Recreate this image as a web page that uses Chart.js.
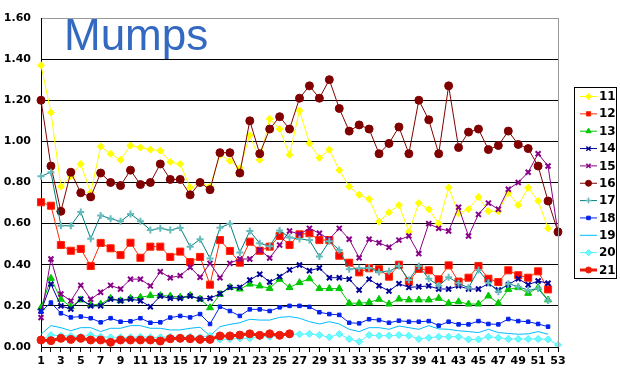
<!DOCTYPE html>
<html>
<head>
<meta charset="utf-8">
<script src="https://cdn.jsdelivr.net/npm/chart.js@4/dist/chart.umd.min.js"></script>
<style>
body { margin: 0; background: #fff; }
</style>
</head>
<body>
<canvas id="mumpsChart" width="620" height="384"></canvas>
<script>
// week numbers on the x axis
const weeks = ['1','2','3','4','5','6','7','8','9','10','11','12','13','14','15','16','17','18','19','20',
    '21','22','23','24','25','26','27','28','29','30','31','32','33','34','35','36','37','38','39','40',
    '41','42','43','44','45','46','47','48','49','50','51','52','53'];
const yTicks = [0, 0.2, 0.4, 0.6, 0.8, 1.0, 1.2, 1.4, 1.6];

const s11 = [1.37,1.14,0.78,0.83,0.89,0.75,0.975,0.94,0.91,0.98,
    0.97,0.96,0.955,0.90,0.89,0.775,0.80,0.78,0.935,0.905,
    0.87,1.03,0.91,1.11,1.06,0.935,1.15,0.99,0.92,0.96,
    0.86,0.78,0.74,0.72,0.61,0.655,0.69,0.56,0.70,0.67,
    0.60,0.775,0.65,0.67,0.73,0.66,0.66,0.75,0.69,0.775,
    0.71,0.577,null];
const s12 = [0.704,0.687,0.496,0.468,0.477,0.394,0.506,0.48,0.447,0.507,
    0.434,0.488,0.488,0.438,0.464,0.413,0.438,0.303,0.52,0.467,
    0.41,0.512,0.468,0.488,0.54,0.496,0.548,0.553,0.52,0.52,
    0.444,0.41,0.363,0.383,0.378,0.342,0.40,0.318,0.38,0.373,
    0.329,0.397,0.318,0.337,0.394,0.332,0.316,0.373,0.349,0.337,
    0.368,0.28,null];
const s13 = [0.191,0.334,0.232,0.196,0.229,0.204,0.209,0.237,0.225,0.237,
    0.242,0.25,0.25,0.248,0.242,0.25,0.233,0.191,0.256,0.29,
    0.282,0.306,0.297,0.285,0.329,0.289,0.313,0.332,0.284,0.284,
    0.284,0.213,0.213,0.217,0.232,0.209,0.233,0.229,0.229,0.229,
    0.237,0.213,0.22,0.209,0.209,0.248,0.213,0.28,0.289,0.261,
    0.289,0.229,null];
const s14 = [0.175,0.306,0.20,0.185,0.233,0.20,0.20,0.233,0.225,0.233,
    0.225,0.196,0.248,0.237,0.237,0.248,0.233,0.237,0.259,0.29,
    0.29,0.326,0.354,0.316,0.342,0.375,0.399,0.371,0.384,0.337,
    0.337,0.33,0.277,0.33,0.298,0.272,0.308,0.29,0.293,0.297,
    0.282,0.282,0.297,0.282,0.282,0.308,0.277,0.303,0.332,0.303,
    0.321,0.31,null];
const s15 = [0.143,0.428,0.258,0.224,0.30,0.232,0.266,0.30,0.282,0.33,
    0.33,0.297,0.366,0.337,0.347,0.388,0.339,0.407,0.337,0.407,
    0.428,0.428,0.472,0.433,0.496,0.564,0.548,0.577,0.553,0.524,
    0.577,0.524,0.434,0.524,0.507,0.485,0.52,0.54,0.454,0.60,
    0.577,0.564,0.68,0.54,0.645,0.70,0.67,0.767,0.80,0.85,
    0.94,0.88,0.553];
const s16 = [1.20,0.88,0.66,0.85,0.75,0.73,0.846,0.80,0.785,0.86,
    0.79,0.80,0.89,0.815,0.815,0.74,0.80,0.765,0.945,0.945,
    0.846,1.10,0.94,1.06,1.12,1.06,1.21,1.27,1.21,1.30,
    1.16,1.05,1.08,1.06,0.94,0.99,1.07,0.94,1.20,1.105,
    0.94,1.27,0.97,1.045,1.06,0.96,0.98,1.05,0.985,0.965,
    0.88,0.71,0.56];
const s17 = [0.83,0.85,0.59,0.59,0.657,0.527,0.64,0.624,0.611,0.647,
    0.611,0.569,0.577,0.569,0.58,0.488,0.524,0.431,0.58,0.60,
    0.46,0.564,0.504,0.49,0.566,0.533,0.525,0.52,0.44,0.514,
    0.472,0.378,0.383,0.384,0.365,0.368,0.394,0.326,0.394,0.332,
    0.298,0.339,0.31,0.288,0.375,0.313,0.269,0.308,0.293,0.277,
    0.284,0.226,null];
const s18 = [0.172,0.216,0.164,0.144,0.148,0.14,0.12,0.14,0.123,0.125,
    0.14,0.118,0.12,0.143,0.151,0.144,0.16,0.112,0.196,0.175,
    0.151,0.183,0.183,0.175,0.193,0.20,0.20,0.195,0.169,0.16,
    0.156,0.118,0.115,0.135,0.131,0.118,0.128,0.123,0.123,0.126,
    0.104,0.123,0.11,0.11,0.126,0.112,0.11,0.136,0.126,0.123,
    0.112,0.099,null];
const s19 = [0.062,0.104,0.094,0.079,0.094,0.094,0.075,0.091,0.091,0.104,
    0.104,0.091,0.091,0.083,0.083,0.091,0.096,0.054,0.099,0.11,
    0.118,0.135,0.131,0.131,0.144,0.148,0.14,0.123,0.112,0.123,
    0.112,0.086,0.075,0.094,0.094,0.086,0.102,0.094,0.086,0.104,
    0.088,0.086,0.079,0.075,0.07,0.086,0.07,0.066,0.062,0.064,
    0.075,0.062,null];
const s20 = [0.034,0.058,0.055,0.054,0.05,0.058,0.05,0.047,0.047,0.047,
    0.05,0.047,0.047,0.05,0.047,0.05,0.047,0.054,0.037,0.039,
    0.042,0.042,0.05,0.05,0.054,0.062,0.062,0.064,0.058,0.048,
    0.063,0.039,0.026,0.058,0.055,0.055,0.058,0.055,0.039,0.045,
    0.05,0.05,0.05,0.037,0.037,0.05,0.045,0.039,0.039,0.039,
    0.039,0.037,0.01];
const s21 = [0.034,0.031,0.042,0.037,0.042,0.034,0.034,0.023,0.034,0.034,
    0.034,0.034,0.029,0.04,0.042,0.04,0.037,0.037,0.054,0.054,
    0.058,0.064,0.057,0.064,0.057,0.064];

// look of each series
const seriesStyle = [
    { label: '11', data: s11, color: '#ffff00', point: 'rectRot', radius: 3.5, fill: '#ffff00', width: 1 },
    { label: '12', data: s12, color: '#ff2a00', point: 'rect', radius: 5, fill: '#ff0000', width: 1 },
    { label: '13', data: s13, color: '#00c800', point: 'triangle', radius: 4, fill: '#00c800', width: 1 },
    { label: '14', data: s14, color: '#000099', point: 'crossRot', radius: 3.5, fill: '#000099', width: 1 },
    { label: '15', data: s15, color: '#880088', point: 'crossRot', radius: 3.5, fill: '#880088', width: 1 },
    { label: '16', data: s16, color: '#800000', point: 'circle', radius: 4, fill: '#800000', width: 1 },
    { label: '17', data: s17, color: '#008080', point: 'cross', radius: 3.5, fill: '#66bbbb', width: 1 },
    { label: '18', data: s18, color: '#0022ee', point: 'rect', radius: 2.5, fill: '#0022ee', width: 1 },
    { label: '19', data: s19, color: '#00bbff', point: false, radius: 0, fill: '#00bbff', width: 1 },
    { label: '20', data: s20, color: '#55eeff', point: 'rectRot', radius: 3.5, fill: '#66ffff', width: 1 },
    { label: '21', data: s21, color: '#ee1a0a', point: 'circle', radius: 4, fill: '#ee1a0a', width: 3 }
];

const tickFont = { family: '"DejaVu Sans", Verdana, sans-serif', size: 11, weight: 'bold' };

const datasets = seriesStyle.map(function(s, i) {
    const crossy = s.point === 'cross' || s.point === 'crossRot';
    return {
        label: s.label,
        data: s.data,
        borderColor: s.color,
        borderWidth: s.width,
        backgroundColor: s.fill,
        pointStyle: s.point,
        pointRadius: s.radius,
        pointBackgroundColor: s.fill,
        pointBorderColor: crossy ? s.fill : s.color,
        pointBorderWidth: crossy ? 2 : 1,
        tension: 0,
        order: seriesStyle.length - i
    };
});

const decor = {
    id: 'decor',
    afterDraw: function(chart) {
        const ctx = chart.ctx;
        const area = chart.chartArea;
        ctx.save();
        // grey frame on the right
        ctx.strokeStyle = '#999';
        ctx.lineWidth = 1;
        ctx.beginPath();
        ctx.moveTo(Math.round(area.right) + 0.5, area.top);
        ctx.lineTo(Math.round(area.right) + 0.5, area.bottom);
        ctx.stroke();

        // title sits inside the plot
        ctx.fillStyle = '#3369c0';
        ctx.font = '44px "Liberation Sans", Arial, sans-serif';
        ctx.textBaseline = 'alphabetic';
        ctx.textAlign = 'left';
        ctx.fillText('Mumps', 64, 50);

        // legend box
        ctx.strokeStyle = '#000';
        ctx.lineWidth = 1;
        ctx.strokeRect(574.5, 87.5, 42, 191);
        ctx.font = 'bold 12px "DejaVu Sans", Verdana, sans-serif';
        ctx.textBaseline = 'middle';
        seriesStyle.forEach(function(s, i) {
            const y = 96.5 + i * 17.35;
            ctx.strokeStyle = s.color;
            ctx.lineWidth = s.width;
            ctx.beginPath();
            ctx.moveTo(580, y);
            ctx.lineTo(597, y);
            ctx.stroke();
            if (s.point && Chart.helpers && Chart.helpers.drawPoint) {
                const crossy = s.point === 'cross' || s.point === 'crossRot';
                ctx.fillStyle = s.fill;
                ctx.strokeStyle = crossy ? s.fill : s.color;
                ctx.lineWidth = crossy ? 1.5 : 1;
                Chart.helpers.drawPoint(ctx, {
                    pointStyle: s.point,
                    radius: Math.min(s.radius, 3),
                    rotation: 0,
                    borderWidth: crossy ? 1.5 : 1
                }, 588.5, y);
            }
            ctx.fillStyle = '#000';
            ctx.fillText(s.label, 599, y + 0.5);
        });
        ctx.restore();
    }
};

new Chart(document.getElementById('mumpsChart'), {
    type: 'line',
    data: { labels: weeks, datasets: datasets },
    options: {
        responsive: false,
        animation: false,
        layout: { padding: { top: 18, right: 62, bottom: 0, left: 0 } },
        plugins: {
            legend: { display: false },
            title: { display: false },
            tooltip: { enabled: false }
        },
        scales: {
            x: {
                offset: false,
                afterFit: function(scale) { scale.height = 37; },
                border: { display: true, color: '#000', width: 1 },
                grid: { display: true, drawOnChartArea: false, drawTicks: true, tickLength: 5, color: '#000', offset: false },
                ticks: {
                    autoSkip: false,
                    maxRotation: 0,
                    padding: 3,
                    color: '#000',
                    font: tickFont,
                    callback: function(value, index) {
                        return index % 2 === 0 ? weeks[index] : '';
                    }
                }
            },
            y: {
                min: yTicks[0],
                max: yTicks[yTicks.length - 1],
                afterFit: function(scale) { scale.width = 41; },
                afterBuildTicks: function(scale) {
                    scale.ticks = yTicks.map(function(v) { return { value: v }; });
                },
                border: { display: true, color: '#000', width: 1 },
                grid: {
                    drawTicks: false,
                    color: function(ctx) {
                        return ctx.tick && ctx.tick.value === 1.6 ? '#999' : '#000';
                    }
                },
                ticks: {
                    padding: 10,
                    color: '#000',
                    font: tickFont,
                    callback: function(value) { return value.toFixed(2); }
                }
            }
        }
    },
    plugins: [decor]
});
</script>
</body>
</html>
